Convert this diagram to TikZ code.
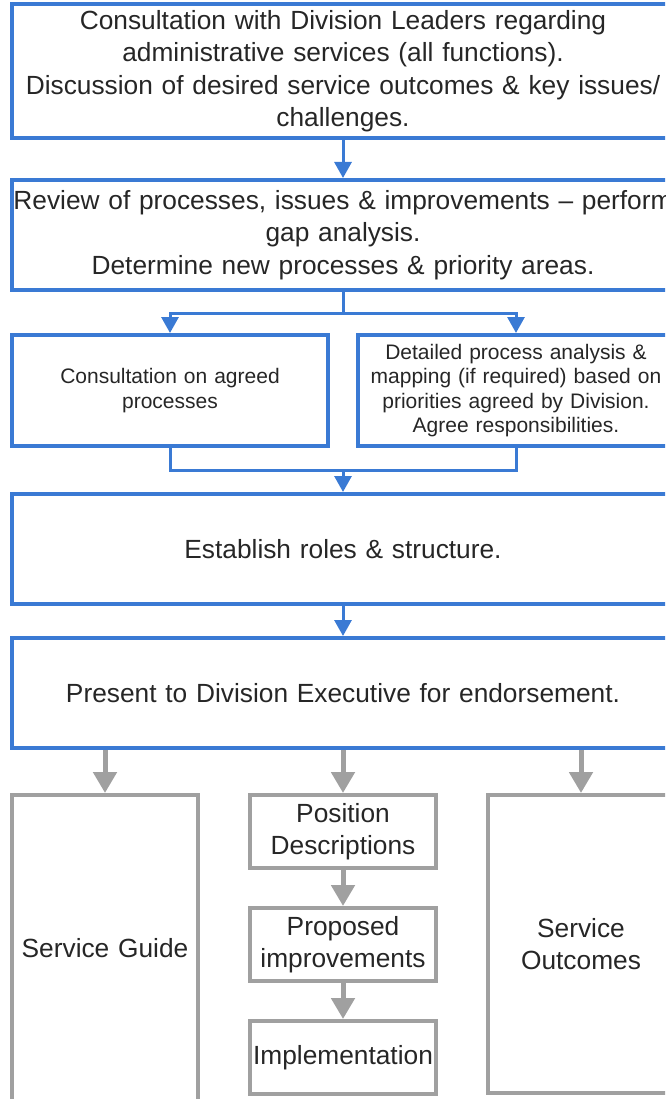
\documentclass[tikz,border=0pt]{standalone}
\usepackage{fontspec}
\setmainfont{Liberation Sans}
\usepackage{xcolor}
\usetikzlibrary{arrows.meta, positioning}

\definecolor{stageblue}{RGB}{58,122,212}
\definecolor{outgray}{RGB}{160,160,160}
\definecolor{textgray}{RGB}{38,38,38}

\begin{document}
\begin{tikzpicture}[>={Triangle[width=17pt,length=16pt]}, line join=miter]
    \tikzstyle{stage}=[rectangle, draw=stageblue, line width=4pt, text=textgray, inner sep=0pt, text width=662pt, minimum height=110pt, align=center, font=\fontsize{26.3}{32.5}\selectfont]
    \tikzstyle{substage}=[stage, text width=316pt, minimum height=111pt, font=\fontsize{21}{24.5}\selectfont]
    \tikzstyle{output}=[rectangle, draw=outgray, line width=4pt, text=textgray, inner sep=0pt, text width=186pt, minimum height=73pt, align=center, font=\fontsize{26.3}{32.5}\selectfont]
    \tikzstyle{flow}=[->, draw=stageblue, line width=3pt]
    \tikzstyle{joint}=[draw=stageblue, line width=3pt]
    \tikzstyle{outflow}=[-{Triangle[width=23pt,length=21pt]}, draw=outgray, line width=5pt]

    \clip[use as bounding box] (0pt,0pt) rectangle (665pt,-1099pt);

    \node[stage, minimum height=134pt] (consult) at (343pt,-71pt) {Consultation with Division Leaders regarding\\administrative services (all functions).\\Discussion of desired service outcomes \& key issues/\\challenges.};
    \node[stage, below=38pt of consult] (review) {\makebox[\hsize]{Review of processes, issues \& improvements -- perform}\\gap analysis.\\Determine new processes \& priority areas.};
    \node[substage, below right=41pt and 0pt of review.south west] (agreed) {Consultation on agreed\\processes};
    \node[substage, below left=41pt and 0pt of review.south east] (mapping) {Detailed process analysis \&\\mapping (if required) based on\\priorities agreed by Division.\\Agree responsibilities.};
    \node[stage, below=200pt of review] (roles) {Establish roles \& structure.};
    \node[stage, below=30pt of roles] (present) {Present to Division Executive for endorsement.};

    \node[output, minimum height=306pt, below right=43pt and 0pt of present.south west] (guide) {Service Guide};
    \node[output, below=43pt of present] (posdesc) {Position\\Descriptions};
    \node[output, below=36pt of posdesc] (improve) {Proposed\\improvements};
    \node[output, below=36pt of improve] (implement) {Implementation};
    \node[output, minimum height=298pt, below left=43pt and 0pt of present.south east] (outcomes) {Service\\Outcomes};

    \coordinate[below=21pt of review.south] (split);
    \coordinate[above=22pt of roles.north] (join);

    \draw[flow] (consult.south) -- (review.north);
    \draw[joint] (review.south) -- (split);
    \draw[flow] (split) -| (agreed.north);
    \draw[flow] (split) -| (mapping.north);
    \draw[joint] (agreed.south) |- (join) -| (mapping.south);
    \draw[flow] (join) -- (roles.north);
    \draw[flow] (roles.south) -- (present.north);

    \draw[outflow] (present.south -| guide.north) -- (guide.north);
    \draw[outflow] (present.south) -- (posdesc.north);
    \draw[outflow] (present.south -| outcomes.north) -- (outcomes.north);
    \draw[outflow] (posdesc.south) -- (improve.north);
    \draw[outflow] (improve.south) -- (implement.north);
\end{tikzpicture}
\end{document}
